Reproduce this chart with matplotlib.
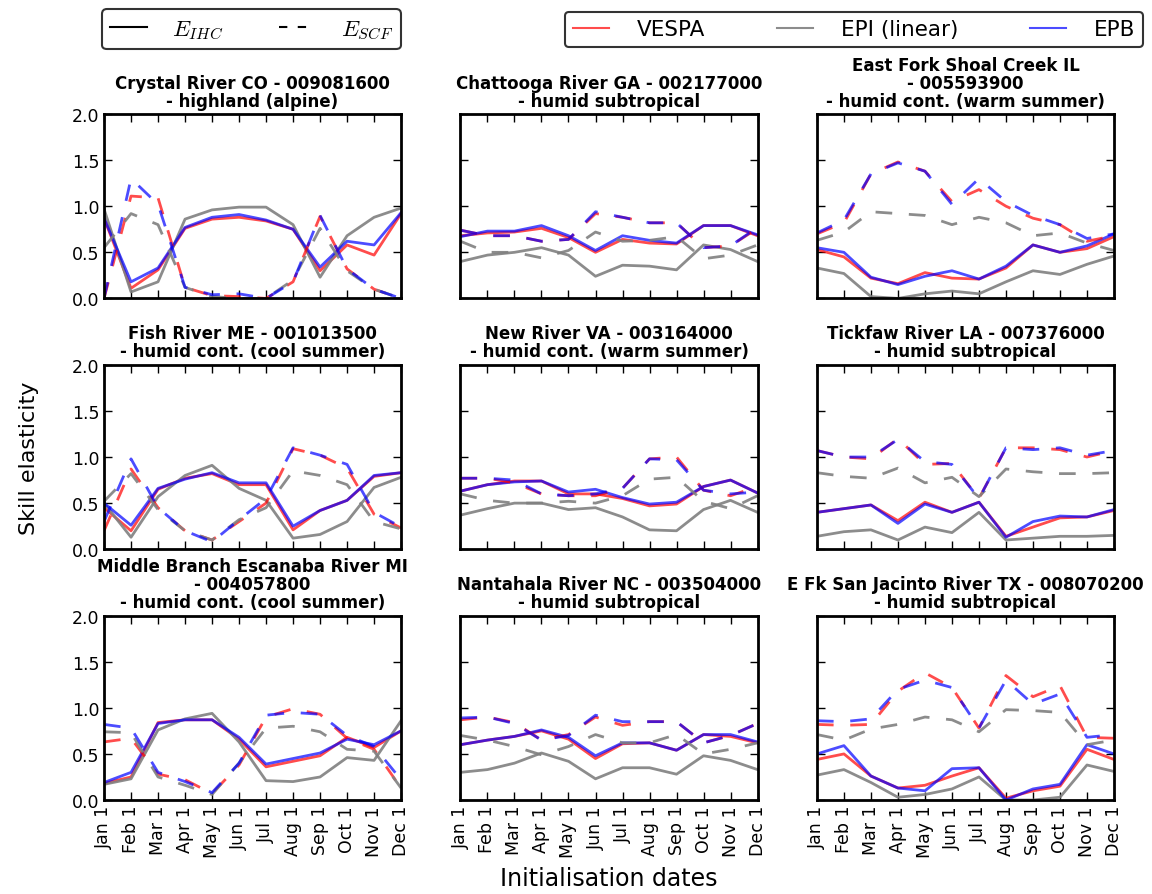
import matplotlib
matplotlib.use("Agg")
import matplotlib.pyplot as plt
from matplotlib.lines import Line2D

MONTHS = ["Jan 1", "Feb 1", "Mar 1", "Apr 1", "May 1", "Jun 1",
          "Jul 1", "Aug 1", "Sep 1", "Oct 1", "Nov 1", "Dec 1"]

TITLES = [
    "Crystal River CO - 009081600\n- highland (alpine)",
    "Chattooga River GA - 002177000\n- humid subtropical",
    "East Fork Shoal Creek IL\n- 005593900\n- humid cont. (warm summer)",
    "Fish River ME - 001013500\n- humid cont. (cool summer)",
    "New River VA - 003164000\n- humid cont. (warm summer)",
    "Tickfaw River LA - 007376000\n- humid subtropical",
    "Middle Branch Escanaba River MI\n- 004057800\n- humid cont. (cool summer)",
    "Nantahala River NC - 003504000\n- humid subtropical",
    "E Fk San Jacinto River TX - 008070200\n- humid subtropical",
]

# E_IHC (solid lines), one row per station
vespa_ihc = [
    [0.87, 0.11, 0.31, 0.76, 0.86, 0.88, 0.84, 0.75, 0.30, 0.58, 0.47, 0.92],
    [0.68, 0.71, 0.72, 0.76, 0.66, 0.50, 0.64, 0.60, 0.59, 0.79, 0.79, 0.68],
    [0.53, 0.45, 0.22, 0.16, 0.28, 0.22, 0.21, 0.33, 0.58, 0.50, 0.54, 0.67],
    [0.45, 0.20, 0.65, 0.77, 0.82, 0.70, 0.70, 0.21, 0.42, 0.53, 0.79, 0.83],
    [0.63, 0.70, 0.74, 0.74, 0.60, 0.60, 0.55, 0.47, 0.49, 0.68, 0.75, 0.61],
    [0.40, 0.44, 0.48, 0.31, 0.51, 0.40, 0.51, 0.14, 0.24, 0.34, 0.35, 0.42],
    [0.18, 0.25, 0.84, 0.87, 0.87, 0.66, 0.36, 0.42, 0.48, 0.68, 0.57, 0.75],
    [0.60, 0.65, 0.69, 0.75, 0.66, 0.45, 0.61, 0.62, 0.54, 0.71, 0.69, 0.62],
    [0.44, 0.50, 0.26, 0.13, 0.16, 0.26, 0.35, 0.02, 0.10, 0.15, 0.55, 0.44],
]
epi_ihc = [
    [0.97, 0.07, 0.18, 0.86, 0.96, 0.99, 0.99, 0.80, 0.23, 0.68, 0.88, 0.98],
    [0.40, 0.47, 0.50, 0.55, 0.47, 0.24, 0.36, 0.35, 0.31, 0.58, 0.53, 0.40],
    [0.33, 0.27, 0.02, 0.00, 0.05, 0.08, 0.05, 0.18, 0.30, 0.26, 0.37, 0.46],
    [0.50, 0.13, 0.57, 0.80, 0.91, 0.66, 0.53, 0.12, 0.16, 0.30, 0.67, 0.78],
    [0.37, 0.44, 0.50, 0.50, 0.43, 0.45, 0.35, 0.21, 0.20, 0.43, 0.53, 0.40],
    [0.14, 0.19, 0.21, 0.10, 0.24, 0.18, 0.40, 0.10, 0.12, 0.14, 0.14, 0.15],
    [0.17, 0.23, 0.76, 0.88, 0.94, 0.63, 0.21, 0.20, 0.25, 0.46, 0.43, 0.86],
    [0.30, 0.33, 0.40, 0.51, 0.42, 0.23, 0.35, 0.35, 0.28, 0.48, 0.43, 0.33],
    [0.27, 0.33, 0.19, 0.03, 0.06, 0.12, 0.25, 0.00, 0.00, 0.03, 0.38, 0.31],
]
epb_ihc = [
    [0.87, 0.18, 0.33, 0.77, 0.88, 0.91, 0.85, 0.75, 0.34, 0.62, 0.58, 0.93],
    [0.67, 0.73, 0.73, 0.79, 0.68, 0.52, 0.68, 0.63, 0.60, 0.79, 0.79, 0.69],
    [0.55, 0.50, 0.23, 0.15, 0.24, 0.30, 0.21, 0.35, 0.58, 0.50, 0.57, 0.70],
    [0.50, 0.26, 0.66, 0.76, 0.83, 0.72, 0.72, 0.25, 0.42, 0.53, 0.80, 0.83],
    [0.63, 0.70, 0.73, 0.74, 0.62, 0.65, 0.56, 0.49, 0.51, 0.68, 0.75, 0.61],
    [0.40, 0.44, 0.48, 0.28, 0.49, 0.40, 0.51, 0.13, 0.30, 0.36, 0.35, 0.43],
    [0.19, 0.30, 0.83, 0.87, 0.87, 0.68, 0.39, 0.45, 0.51, 0.66, 0.60, 0.75],
    [0.60, 0.65, 0.69, 0.76, 0.68, 0.48, 0.62, 0.62, 0.54, 0.71, 0.71, 0.63],
    [0.50, 0.59, 0.26, 0.13, 0.10, 0.34, 0.35, 0.00, 0.12, 0.17, 0.60, 0.50],
]

# E_SCF (dashed lines)
vespa_scf = [
    [0.00, 1.11, 1.09, 0.12, 0.03, 0.02, 0.00, 0.18, 0.89, 0.32, 0.10, 0.00],
    [0.74, 0.68, 0.68, 0.62, 0.64, 0.92, 0.88, 0.82, 0.82, 0.55, 0.57, 0.76],
    [0.70, 0.82, 1.35, 1.48, 1.38, 1.05, 1.18, 1.00, 0.87, 0.80, 0.62, 0.68],
    [0.20, 0.87, 0.45, 0.20, 0.10, 0.30, 0.50, 1.09, 1.02, 0.88, 0.38, 0.23],
    [0.77, 0.77, 0.72, 0.60, 0.58, 0.58, 0.66, 0.98, 1.00, 0.64, 0.58, 0.68],
    [1.07, 1.00, 0.98, 1.20, 0.92, 0.93, 0.55, 1.10, 1.10, 1.08, 1.00, 1.07],
    [0.63, 0.67, 0.28, 0.22, 0.07, 0.38, 0.90, 0.99, 0.93, 0.67, 0.55, 0.13],
    [0.87, 0.90, 0.84, 0.65, 0.71, 0.90, 0.81, 0.85, 0.85, 0.62, 0.70, 0.83],
    [0.82, 0.81, 0.82, 1.18, 1.38, 1.22, 0.78, 1.35, 1.12, 1.24, 0.68, 0.67],
]
epi_scf = [
    [0.55, 0.92, 0.80, 0.12, 0.02, 0.00, 0.00, 0.20, 0.76, 0.30, 0.10, 0.00],
    [0.62, 0.50, 0.50, 0.44, 0.52, 0.72, 0.62, 0.63, 0.67, 0.43, 0.47, 0.58],
    [0.63, 0.72, 0.94, 0.92, 0.90, 0.80, 0.88, 0.82, 0.68, 0.71, 0.60, 0.52],
    [0.52, 0.82, 0.43, 0.20, 0.10, 0.32, 0.45, 0.85, 0.80, 0.70, 0.30, 0.22],
    [0.60, 0.53, 0.50, 0.50, 0.52, 0.50, 0.58, 0.76, 0.78, 0.52, 0.44, 0.58],
    [0.83, 0.79, 0.77, 0.88, 0.72, 0.78, 0.57, 0.87, 0.84, 0.82, 0.82, 0.83],
    [0.74, 0.73, 0.25, 0.16, 0.06, 0.40, 0.78, 0.80, 0.74, 0.55, 0.53, 0.13],
    [0.70, 0.65, 0.58, 0.49, 0.58, 0.71, 0.62, 0.62, 0.71, 0.50, 0.55, 0.62],
    [0.71, 0.65, 0.77, 0.82, 0.90, 0.87, 0.74, 0.98, 0.97, 0.95, 0.60, 0.65],
]
epb_scf = [
    [0.00, 1.30, 1.02, 0.12, 0.04, 0.05, 0.00, 0.18, 0.90, 0.32, 0.10, 0.00],
    [0.74, 0.68, 0.68, 0.62, 0.64, 0.94, 0.88, 0.82, 0.82, 0.55, 0.57, 0.77],
    [0.71, 0.85, 1.35, 1.47, 1.38, 1.02, 1.30, 1.05, 0.90, 0.80, 0.65, 0.70],
    [0.30, 0.98, 0.45, 0.20, 0.08, 0.32, 0.55, 1.10, 1.02, 0.92, 0.40, 0.24],
    [0.77, 0.77, 0.75, 0.60, 0.58, 0.60, 0.66, 0.98, 0.97, 0.64, 0.60, 0.62],
    [1.07, 1.00, 1.00, 1.19, 0.95, 0.92, 0.55, 1.10, 1.08, 1.10, 1.02, 1.07],
    [0.82, 0.78, 0.30, 0.20, 0.08, 0.40, 0.92, 0.95, 0.93, 0.70, 0.58, 0.22],
    [0.89, 0.90, 0.83, 0.65, 0.70, 0.92, 0.85, 0.85, 0.85, 0.62, 0.70, 0.83],
    [0.86, 0.85, 0.88, 1.20, 1.30, 1.22, 0.78, 1.30, 1.04, 1.15, 0.68, 0.71],
]

plt.rcParams['font.family'] = 'DejaVu Sans'
plt.rcParams['mathtext.fontset'] = 'cm'

fig, axes = plt.subplots(3, 3, figsize=(11.52, 8.95), dpi=100, sharey=True)
fig.subplots_adjust(left=0.0903, right=0.967, top=0.8715, bottom=0.105,
                    wspace=0.2, hspace=0.36)

x = list(range(12))
lw = 2.0
al = 0.7
dash = (6, 6)

for i, ax in enumerate(axes.flat):
    ax.plot(x, vespa_ihc[i], color='red', lw=lw, alpha=al)
    ax.plot(x, epi_ihc[i], color='gray', lw=lw, alpha=0.9)
    ax.plot(x, epb_ihc[i], color='blue', lw=lw, alpha=al)
    ax.plot(x, vespa_scf[i], color='red', lw=lw, alpha=al, ls='--', dashes=dash)
    ax.plot(x, epi_scf[i], color='gray', lw=lw, alpha=0.9, ls='--', dashes=dash)
    ax.plot(x, epb_scf[i], color='blue', lw=lw, alpha=al, ls='--', dashes=dash)
    ax.set_xlim(0, 11)
    ax.set_ylim(0, 2.0)
    ax.set_yticks([0.0, 0.5, 1.0, 1.5, 2.0])
    ax.set_xticks(x)
    ax.set_title(TITLES[i], fontsize=12, fontweight='bold', linespacing=1.0)
    ax.tick_params(direction='in', top=True, right=True, length=6, width=1,
                   labelsize=12.5)
    for sp in ax.spines.values():
        sp.set_linewidth(2)
    if i >= 6:
        ax.set_xticklabels(MONTHS, rotation=90)
    else:
        ax.set_xticklabels([])
    if i % 3 == 0:
        ax.set_yticklabels(["0.0", "0.5", "1.0", "1.5", "2.0"])

fig.text(0.025, 0.488, "Skill elasticity", rotation=90, fontsize=16,
         ha='center', va='center')
fig.text(0.528, 0.018, "Initialisation dates", fontsize=17,
         ha='center', va='center')

h1 = [Line2D([], [], color='black', lw=1.5),
      Line2D([], [], color='black', lw=1.5, ls='--', dashes=(4, 5))]
leg1 = fig.legend(h1, [r"$E_{IHC}$", r"$E_{SCF}$"], ncol=2,
                  loc='center', bbox_to_anchor=(0.2185, 0.966),
                  fontsize=16.5, frameon=True, fancybox=True,
                  handlelength=1.6, columnspacing=2.4, handletextpad=1.1,
                  borderpad=0.35)
leg1.get_frame().set_edgecolor('black')
leg1.get_frame().set_linewidth(1.5)

h2 = [Line2D([], [], color='red', lw=1.5, alpha=al),
      Line2D([], [], color='gray', lw=1.5, alpha=0.9),
      Line2D([], [], color='blue', lw=1.5, alpha=al)]
leg2 = fig.legend(h2, ["VESPA", "EPI (linear)", "EPB"], ncol=3,
                  loc='center', bbox_to_anchor=(0.7415, 0.966),
                  fontsize=15.5, frameon=True, fancybox=True,
                  handlelength=1.7, columnspacing=3.3, handletextpad=1.3,
                  borderpad=0.35)
leg2.get_frame().set_edgecolor('black')
leg2.get_frame().set_linewidth(1.5)

fig.savefig("out.png", dpi=100, facecolor='white')
